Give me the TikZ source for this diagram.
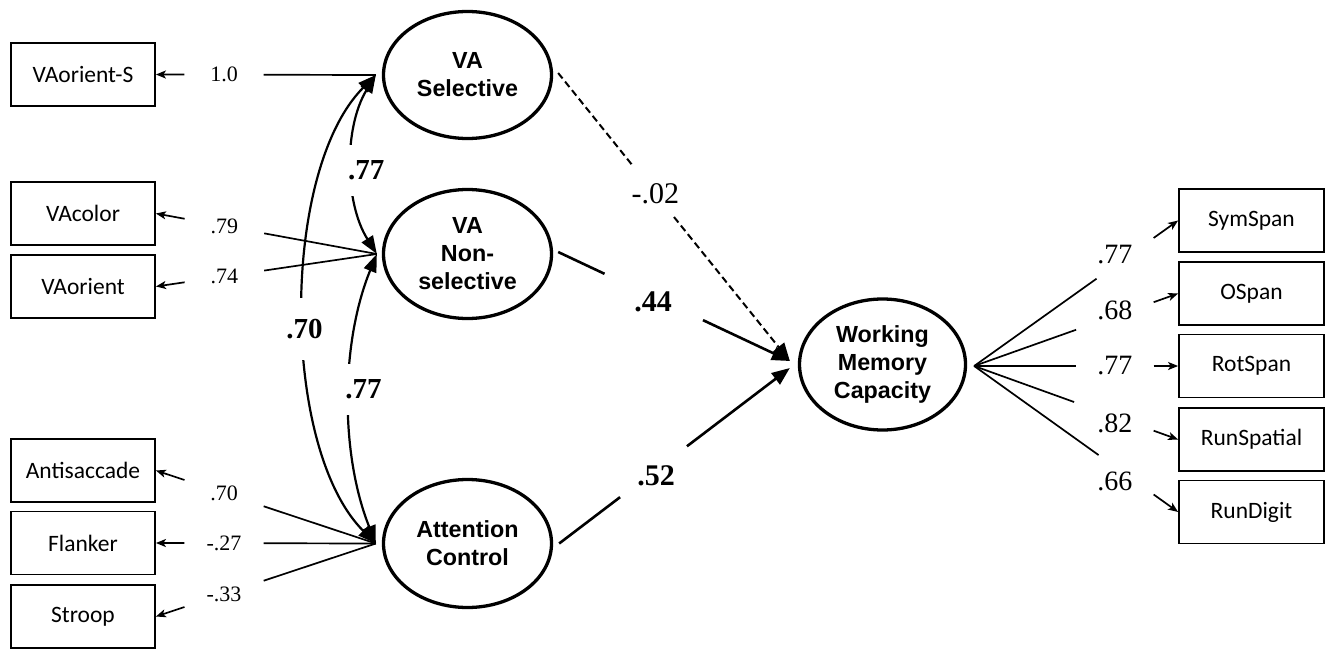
\documentclass[tikz,border=0pt]{standalone}
\usepackage{fontspec}
\setmainfont{Liberation Serif}
\newfontfamily\boxfont{Carlito}
\newfontfamily\latfont{Liberation Sans}
\usetikzlibrary{arrows.meta,calc,shapes.geometric}

\begin{document}
\begin{tikzpicture}[x=1pt,y=-1pt,
  obs/.style={draw, line width=1.8pt, minimum width=144pt, minimum height=63pt,
    inner sep=0pt, font=\boxfont\fontsize{23.5}{28}\selectfont},
  lat/.style={draw, ellipse, line width=3.3pt, minimum width=168pt, minimum height=127pt,
    inner sep=0pt, align=center, font=\latfont\bfseries\fontsize{23.3}{28}\selectfont},
  load/.style={line width=1.7pt},
  smallhead/.style={-{Stealth[length=10pt,width=8pt,inset=2.5pt]}},
  bighead/.style={-{Triangle[length=18pt,width=14pt]}},
  corr/.style={line width=2.2pt, {Triangle[length=18pt,width=13pt]}-{Triangle[length=18pt,width=13pt]}},
  path/.style={line width=2.6pt},
  dpath/.style={line width=2pt, dash pattern=on 7pt off 4pt},
  lload/.style={font=\fontsize{22}{24}\selectfont, inner sep=0pt},
  rload/.style={font=\fontsize{28}{30}\selectfont, inner sep=0pt},
  coef/.style={font=\fontsize{30}{32}\selectfont, inner sep=0pt},
  bcoef/.style={font=\bfseries\fontsize{30}{32}\selectfont, inner sep=0pt},
  clab/.style={font=\bfseries\fontsize{29}{30}\selectfont, fill=white, inner xsep=2pt},
]
\useasboundingbox (0,0) rectangle (1332,650);

% latent factors
\node[lat] (sel) at (467.5,75) {VA\\Selective};
\node[lat, minimum height=129pt] (nsel) at (467.5,254) {VA\\Non-\\selective};
\node[lat, minimum height=128pt] (att) at (467.5,543.5) {Attention\\Control};
\node[lat, minimum width=166pt, minimum height=131pt] (wmc) at (882.5,364.5) {Working\\Memory\\Capacity};

% observed indicators
\foreach \n/\y/\t in {vas/74.5/VAorient-S, vac/213.5/VAcolor, vao/286.5/VAorient,
                      anti/470.5/Antisaccade, flk/543/Flanker, stp/616.5/Stroop}
  \node[obs] (\n) at (83,\y) {\t};
\foreach \n/\y/\t in {sym/220.5/SymSpan, osp/293.5/OSpan, rot/366/RotSpan,
                      rsp/439.5/RunSpatial, rdg/512/RunDigit}
  \node[obs, minimum width=145pt] (\n) at (1251.5,\y) {\t};

% meeting points of the connectors
\coordinate (h-sel)  at ($(sel.west)+(-6,0)$);
\coordinate (h-nsel) at ($(nsel.west)+(-5,0)$);
\coordinate (h-att)  at ($(att.west)+(-6,0)$);
\coordinate (h-wmc)  at ($(wmc.east)+(7,1.5)$);
\coordinate (p-sel)  at ($(sel.east)+(5,-2)$);
\coordinate (p-nsel) at ($(nsel.east)+(5,-2)$);
\coordinate (p-att)  at ($(att.east)+(6,0)$);
\coordinate (tipA)   at ($(wmc.west)+(-8,-3.5)$);
\coordinate (tipB)   at ($(wmc.west)+(-8,3.5)$);

% factor loadings, left
\foreach \f/\b/\l in {sel/vas/1.0, nsel/vac/.79, nsel/vao/.74,
                      att/anti/.70, att/flk/-.27, att/stp/-.33} {
  \path (h-\f) -- (\b.east) coordinate[pos=0.51] (g1) coordinate[pos=0.87] (g2)
        node[pos=0.69, lload] {\l};
  \draw[load] (h-\f) -- (g1);
  \draw[load, smallhead] (g2) -- (\b.east);
}

% factor loadings, right
\foreach \b/\a/\s/\l in {sym/0.60/11/.77, osp/0.50/6/.68, rot/0.50/0/.77,
                         rsp/0.49/-7/.82, rdg/0.61/-15/.66} {
  \path (h-wmc) -- (\b.west) coordinate[pos=\a] (g1) coordinate[pos=0.88] (g2)
        node[pos=0.69, yshift=\s pt, rload] {\l};
  \draw[load] (h-wmc) -- (g1);
  \draw[load, smallhead] (g2) -- (\b.west);
}

% structural paths
\path (p-sel) -- (tipA) coordinate[pos=0.32] (d1) coordinate[pos=0.50] (d2)
      node[pos=0.42, coef] {-.02};
\draw[dpath] (p-sel) -- (d1);
\draw[dpath, bighead] (d2) -- (tipA);

\path (p-nsel) -- (tipA) coordinate[pos=0.20] (e1) coordinate[pos=0.625] (e2)
      node[pos=0.41, yshift=-5pt, bcoef] {.44};
\draw[path] (p-nsel) -- (e1);
\draw[path, bighead] (e2) -- (tipA);

\path (p-att) -- (tipB) coordinate[pos=0.264] (f1) coordinate[pos=0.554] (f2)
      node[pos=0.42, yshift=-6pt, bcoef] {.52};
\draw[path] (p-att) -- (f1);
\draw[path, bighead] (f2) -- (tipB);

% factor correlations
\draw[corr] (h-sel) to[bend right=32, looseness=0.87]
      node[pos=0.53, clab, xshift=14pt, inner ysep=16pt] {.77} (h-nsel);
\draw[corr] (h-nsel) to[bend right=22, looseness=0.85]
      node[pos=0.47, clab, xshift=14pt, inner ysep=16pt] {.77} (h-att);
\draw[corr] (h-sel) to[bend right=45, looseness=0.74]
      node[pos=0.535, clab, inner ysep=21pt] {.70} (h-att);
\end{tikzpicture}
\end{document}
